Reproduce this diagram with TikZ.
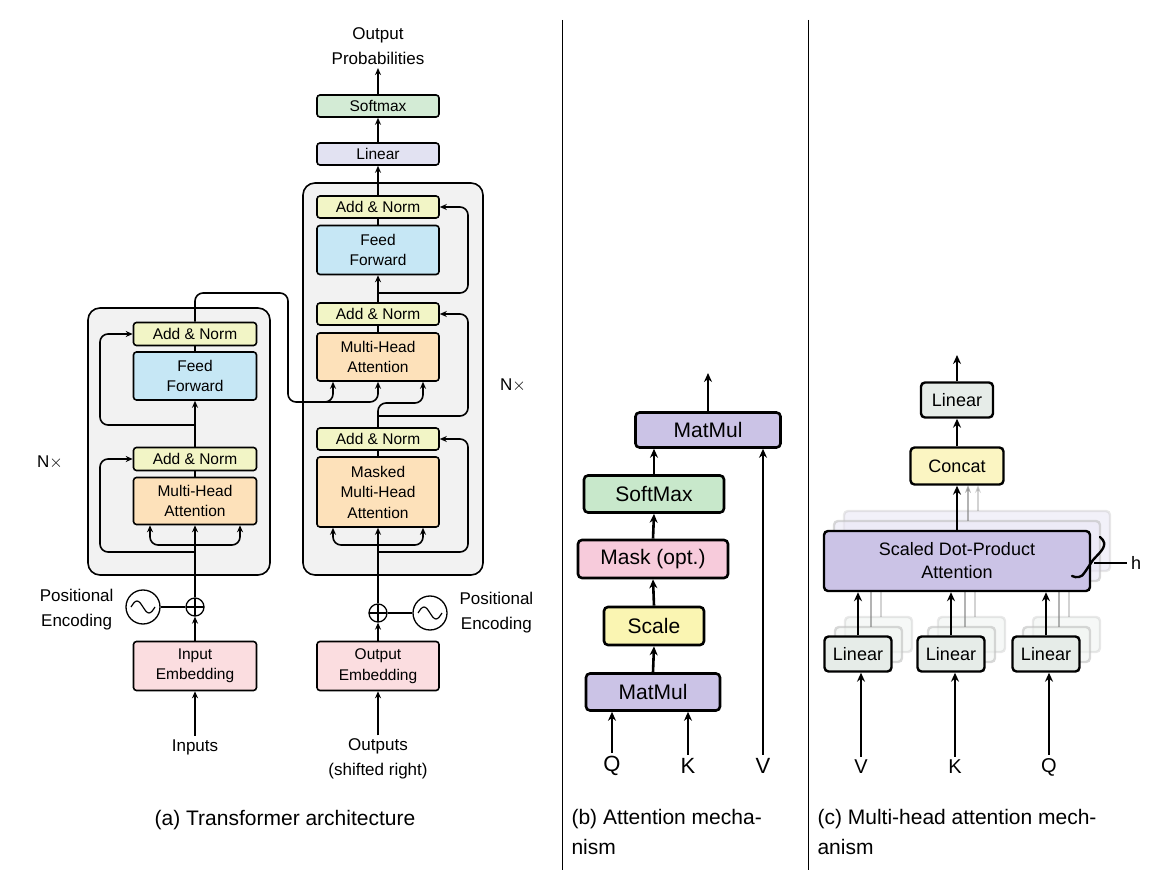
\documentclass[tikz,border=0pt]{standalone}
\usepackage{fontspec}
\setmainfont{Liberation Sans}
\usetikzlibrary{positioning,arrows.meta,calc}
\definecolor{addc}{HTML}{F2F5C6}
\definecolor{ffc}{HTML}{C6E7F5}
\definecolor{mhac}{HTML}{FDE1BA}
\definecolor{embc}{HTML}{FBDDE0}
\definecolor{linc}{HTML}{E2E2F2}
\definecolor{smc}{HTML}{D3EBD5}
\definecolor{mmc}{HTML}{CBC3E6}
\definecolor{bsmc}{HTML}{C8E8CB}
\definecolor{maskc}{HTML}{F7CBDB}
\definecolor{scalec}{HTML}{FAF5B2}
\definecolor{catc}{HTML}{FBF5C2}
\definecolor{clinc}{HTML}{E6ECE8}
\tikzset{
blk/.style={draw, rounded corners=3pt, line width=1.6pt, align=center, inner sep=0pt, font=\fontsize{15.5}{20.5}\selectfont},
bblk/.style={draw, rounded corners=4pt, line width=2.6pt, align=center, inner sep=0pt, font=\fontsize{21}{24}\selectfont},
cblk/.style={draw, rounded corners=4pt, line width=2.4pt, align=center, inner sep=0pt, font=\fontsize{18}{23}\selectfont},
ghost/.style={draw=gray!50, rounded corners=4pt, line width=2.4pt, fill=white, opacity=0.6},
arr/.style={-{Stealth[length=7pt,width=6pt]}, line width=1.6pt},
arrb/.style={-{Stealth[length=9pt,width=8pt]}, line width=2.6pt},
txt/.style={align=center, font=\fontsize{17}{25}\selectfont},
frame/.style={draw, rounded corners=12pt, line width=1.6pt, fill=gray!10},
plusc/.style={circle, draw, line width=1.3pt, minimum size=18pt, inner sep=0pt,
  path picture={\draw[line width=1.2pt] (path picture bounding box.north) -- (path picture bounding box.south)
  (path picture bounding box.west) -- (path picture bounding box.east);}},
sinc/.style={circle, draw, line width=1.3pt, minimum size=34pt, inner sep=0pt},
}
\newcommand{\sinewave}[1]{\draw[line width=1.2pt] ($(#1)+(-12,0)$) sin ($(#1)+(-6,-6)$) cos (#1) sin ($(#1)+(6,6)$) cos ($(#1)+(12,0)$);}
\begin{document}
\begin{tikzpicture}[x=1pt, y=-1pt]
\useasboundingbox (0,0) rectangle (1168,882);
%Panel (a): frames
\draw[frame] (88,308) rectangle (270,575);
\draw[frame] (303,183) rectangle (483,575);

%Encoder
\node[blk, fill=addc, minimum width=123, minimum height=23] (ean2) at (195,334) {Add \& Norm};
\node[blk, fill=ffc, minimum width=123, minimum height=48] (eff) at (195,376) {Feed\\Forward};
\node[blk, fill=addc, minimum width=123, minimum height=23] (ean1) at (195,459) {Add \& Norm};
\node[blk, fill=mhac, minimum width=123, minimum height=47] (emha) at (195,501) {Multi-Head\\Attention};
\node[blk, fill=embc, minimum width=123, minimum height=49] (ein) at (195,666) {Input\\Embedding};
\node[plusc] (eplus) at (195,607) {};
\node[sinc] (esin) at (143,607) {};
\sinewave{esin.center}
\node[txt, anchor=east] (epos) at (117,610) {Positional\\Encoding};
\node[txt] (inp) at (195,747) {Inputs};
\node[txt] (enx) at (50,462) {N$\times$};

%Decoder
\node[blk, fill=addc, minimum width=122, minimum height=22] (dan3) at (378,207) {Add \& Norm};
\node[blk, fill=ffc, minimum width=122, minimum height=49] (dff) at (378,250) {Feed\\Forward};
\node[blk, fill=addc, minimum width=122, minimum height=22] (dan2) at (378,314) {Add \& Norm};
\node[blk, fill=mhac, minimum width=122, minimum height=48] (dmha) at (378,357) {Multi-Head\\Attention};
\node[blk, fill=addc, minimum width=122, minimum height=22] (dan1) at (378,439) {Add \& Norm};
\node[blk, fill=mhac, minimum width=122, minimum height=70] (dmmha) at (378,492) {Masked\\Multi-Head\\Attention};
\node[blk, fill=embc, minimum width=122, minimum height=49] (doe) at (378,666) {Output\\Embedding};
\node[blk, fill=linc, minimum width=122, minimum height=22] (dlin) at (378,154) {Linear};
\node[blk, fill=smc, minimum width=122, minimum height=22] (dsm) at (378,106) {Softmax};
\node[txt] (oprob) at (378,46) {Output\\Probabilities};
\node[plusc] (dplus) at (378,613) {};
\node[sinc] (dsin) at (430,613) {};
\sinewave{dsin.center}
\node[txt, anchor=west] (dpos) at (456,613) {Positional\\Encoding};
\node[txt] (outp) at (378,759) {Outputs\\(shifted right)};
\node[txt] (dnx) at (513,385) {N$\times$};

%Encoder connections
\draw[arr] (inp.north) -- (ein.north |- 0,730) -- (ein.south);
\draw[arr] (ein.north) -- (eplus.south);
\draw[line width=1.3pt] (esin.east) -- (eplus.west);
\draw[arr] (eplus.north) -- (emha.south);
\draw[arr, rounded corners=8] (195,545) -| ($(emha.south)+(-45,0)$);
\draw[arr, rounded corners=8] (195,545) -| ($(emha.south)+(45,0)$);
\draw[arr, rounded corners=8] (195,552) -| (100,459) -- (ean1.west);
\draw[line width=1.6pt] (emha.north) -- (ean1.south);
\draw[arr] (ean1.north) -- (eff.south);
\draw[arr, rounded corners=8] (195,425) -| (100,334) -- (ean2.west);
\draw[line width=1.6pt] (eff.north) -- (ean2.south);
\draw[arr, rounded corners=8] (ean2.north) |- (288,293) -- (288,402) -| ($(dmha.south)+(-45,0)$);
\draw[arr, rounded corners=8] (320,402) -| (dmha.south);

%Decoder connections
\draw[arr] (outp.north) -- (doe.south);
\draw[arr] (doe.north) -- (dplus.south);
\draw[line width=1.3pt] (dsin.west) -- (dplus.east);
\draw[arr] (dplus.north) -- (dmmha.south);
\draw[arr, rounded corners=8] (378,545) -| ($(dmmha.south)+(-45,0)$);
\draw[arr, rounded corners=8] (378,545) -| ($(dmmha.south)+(45,0)$);
\draw[arr, rounded corners=8] (378,552) -| (468,439) -- (dan1.east);
\draw[line width=1.6pt] (dmmha.north) -- (dan1.south);
\draw[arr, rounded corners=8] (dan1.north) -- (378,403) -| ($(dmha.south)+(45,0)$);
\draw[arr, rounded corners=8] (378,416) -| (468,314) -- (dan2.east);
\draw[line width=1.6pt] (dmha.north) -- (dan2.south);
\draw[arr] (dan2.north) -- (dff.south);
\draw[arr, rounded corners=8] (378,293) -| (468,207) -- (dan3.east);
\draw[line width=1.6pt] (dff.north) -- (dan3.south);
\draw[arr] (dan3.north) -- (dlin.south);
\draw[arr] (dlin.north) -- (dsm.south);
\draw[arr] (dsm.north) -- (oprob.south);

%Separators
\draw[line width=0.8pt] (562,20) -- (562,870);
\draw[line width=0.8pt] (808,20) -- (808,870);

%Panel (b)
\node[bblk, fill=mmc, minimum width=145, minimum height=35] (bm2) at (708,430) {MatMul};
\node[bblk, fill=bsmc, minimum width=140, minimum height=37] (bsm) at (654,494) {SoftMax};
\node[bblk, fill=maskc, minimum width=150, minimum height=38] (bmask) at (653,559) {Mask (opt.)};
\node[bblk, fill=scalec, minimum width=100, minimum height=38] (bscale) at (654,626) {Scale};
\node[bblk, fill=mmc, minimum width=134, minimum height=37] (bm1) at (653,692) {MatMul};
\node[font=\fontsize{22}{26}\selectfont] (bq) at (612,766) {Q};
\node[font=\fontsize{22}{26}\selectfont] (bk) at (688,766) {K};
\node[font=\fontsize{22}{26}\selectfont] (bv) at (763,766) {V};
\coordinate (bout) at (708,373);
\draw[arrb] (bq.north) -- (bq.north |- bm1.south);
\draw[arrb] (bk.north) -- (bk.north |- bm1.south);
\draw[arrb] (bv.north) -- (bv.north |- bm2.south);
\draw[arrb] (bm1.north) -- (bscale.south);
\draw[arrb] (bscale.north) -- (bmask.south);
\draw[arrb] (bmask.north) -- (bsm.south);
\draw[arrb] (bsm.north) -- (bsm.north |- bm2.south);
\draw[arrb] (bm2.north) -- (bout);

%Panel (c)
\foreach \dx/\op in {20/0.35, 10/0.6} {
  \draw[ghost, draw opacity=\op, fill=mmc!40] (824+\dx,531-\dx) rectangle (1090+\dx,591-\dx);
  \foreach \cx in {858,951,1046}
    \draw[ghost, draw opacity=\op, fill=clinc!60] (\cx-33+\dx,637-\dx) rectangle (\cx+34+\dx,672-\dx);
  \foreach \cx in {861,955,1049}
    \draw[line width=2.2pt, draw=gray, opacity=\op] (\cx+\dx,637-\dx) -- (\cx+\dx,591-\dx);
  \draw[-{Stealth[length=8pt]}, line width=2.2pt, draw=gray, opacity=\op] (958+\dx,531-\dx) -- (958+\dx,485);
}
\node[cblk, fill=clinc, minimum width=72, minimum height=35] (cl2) at (957,400) {Linear};
\node[cblk, fill=catc, minimum width=93, minimum height=37] (ccat) at (957,466) {Concat};
\node[cblk, fill=mmc, minimum width=266, minimum height=60] (csd) at (957,561) {Scaled Dot-Product\\Attention};
\node[cblk, fill=clinc, minimum width=67, minimum height=35] (clv) at (858,654) {Linear};
\node[cblk, fill=clinc, minimum width=67, minimum height=35] (clk) at (951,654) {Linear};
\node[cblk, fill=clinc, minimum width=67, minimum height=35] (clq) at (1046,654) {Linear};
\node[font=\fontsize{20}{24}\selectfont] (cv) at (861,767) {V};
\node[font=\fontsize{20}{24}\selectfont] (ck) at (955,767) {K};
\node[font=\fontsize{20}{24}\selectfont] (cq) at (1049,767) {Q};
\node[font=\fontsize{18}{22}\selectfont] (ch) at (1136,563) {h};
\coordinate (cout) at (957,355);
\draw[arrb] (cv.north) -- (cv.north |- clv.south);
\draw[arrb] (ck.north) -- (ck.north |- clk.south);
\draw[arrb] (cq.north) -- (cq.north |- clq.south);
\draw[arrb] (clv.north) -- (clv.north |- csd.south);
\draw[arrb] (clk.north) -- (clk.north |- csd.south);
\draw[arrb] (clq.north) -- (clq.north |- csd.south);
\draw[arrb] (csd.north) -- (ccat.south);
\draw[arrb] (ccat.north) -- (cl2.south);
\draw[arrb] (cl2.north) -- (cout);
\draw[line width=2.4pt, line cap=round] (1100,537) .. controls (1110,545) and (1100,552) .. (1093,560) -- (1085,572) .. controls (1082,578) and (1076,578) .. (1072,576);
\draw[line width=1.6pt] (1094,563) -- (ch.west);

%Captions
\node[font=\fontsize{21}{30}\selectfont] (capa) at (285,820) {(a) Transformer architecture};
\node[font=\fontsize{21}{30}\selectfont, align=left, anchor=north west] (capb) at (568,806) {(b) Attention mecha-\\nism};
\node[font=\fontsize{21}{30}\selectfont, align=left, anchor=north west] (capc) at (814,806) {(c) Multi-head attention mech-\\anism};
\end{tikzpicture}
\end{document}
